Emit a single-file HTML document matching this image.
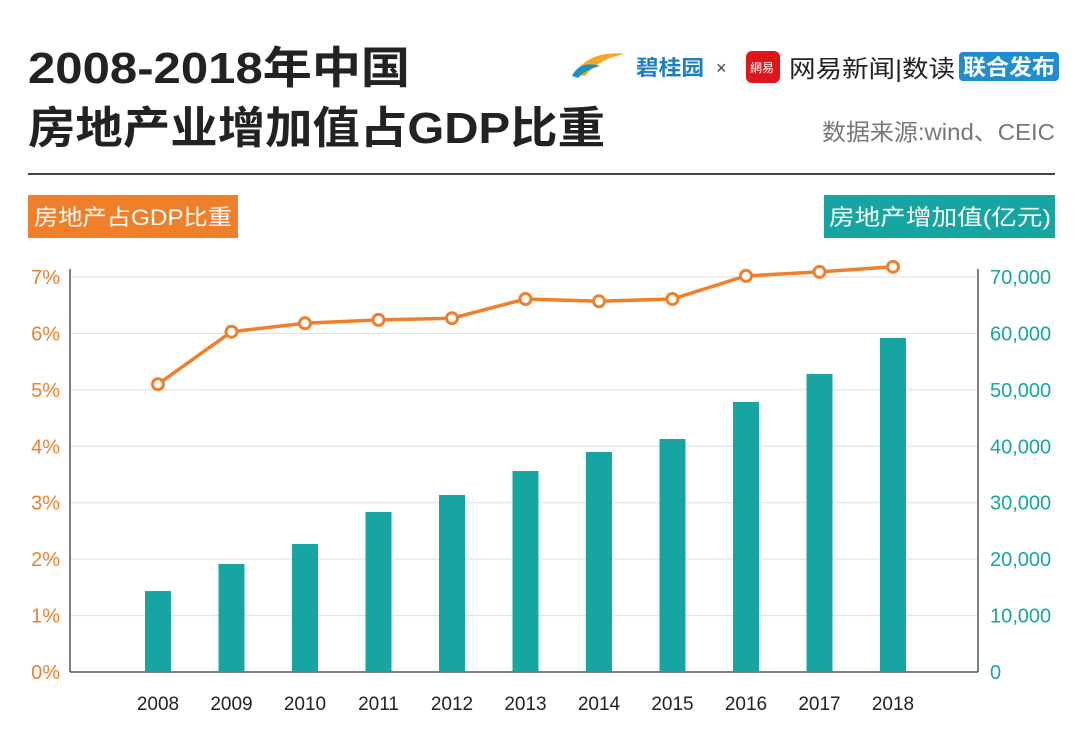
<!DOCTYPE html>
<html><head><meta charset="utf-8"><style>
body{margin:0;background:#fff;width:1080px;height:732px;overflow:hidden;font-family:"Liberation Sans","Noto Sans CJK SC",sans-serif}
</style></head><body>
<svg width="1080" height="732" font-family="Liberation Sans, Noto Sans CJK SC, sans-serif">
<text x="28" y="83" font-size="44" font-weight="bold" fill="#222" textLength="382" lengthAdjust="spacingAndGlyphs">2008-2018年中国</text>
<text x="28" y="143" font-size="44" font-weight="bold" fill="#222" textLength="577" lengthAdjust="spacingAndGlyphs">房地产业增加值占GDP比重</text>
<g>
<path d="M574 74 Q590 50 625 54 Q600 58 585 76 Z" fill="#f5a623"/>
<path d="M572 76 Q580 60 600 66 Q585 70 578 78 Z" fill="#1a8fc2"/>
<text x="636" y="75" font-size="21" font-weight="bold" fill="#1a7fc0" textLength="68" lengthAdjust="spacingAndGlyphs">碧桂园</text>
<text x="716" y="74" font-size="18" fill="#444">×</text>
<rect x="746" y="51" width="34" height="32" rx="6" fill="#e0141b"/>
<text x="750" y="72" font-size="12" fill="#fff">網易</text>
<text x="789" y="77" font-size="24" fill="#222" textLength="166" lengthAdjust="spacingAndGlyphs">网易新闻|数读</text>
<rect x="959" y="52" width="100" height="29" rx="4" fill="#1e8ed0"/>
<text x="963" y="75" font-size="22" font-weight="bold" fill="#fff" textLength="92" lengthAdjust="spacingAndGlyphs">联合发布</text>
</g>
<text x="1055" y="140" font-size="23" fill="#777" text-anchor="end" textLength="233" lengthAdjust="spacingAndGlyphs">数据来源:wind、CEIC</text>
<line x1="28" y1="174" x2="1055" y2="174" stroke="#444" stroke-width="2"/>
<rect x="28" y="195" width="210" height="43" fill="#f07f2a"/>
<text x="34" y="225" font-size="22" fill="#fff" textLength="198" lengthAdjust="spacingAndGlyphs">房地产占GDP比重</text>
<rect x="824" y="195" width="231" height="43" fill="#16a5a0"/>
<text x="829" y="225" font-size="22" fill="#fff" textLength="222" lengthAdjust="spacingAndGlyphs">房地产增加值(亿元)</text>
<g id="plot"></g>
</svg>
<script>
const years=["2008","2009","2010","2011","2012","2013","2014","2015","2016","2017","2018"];
const valueAdded=[14350,19140,22680,28350,31370,35620,38990,41290,47850,52810,59190];
const gdpShare=[5.10,6.03,6.18,6.24,6.27,6.61,6.57,6.61,7.02,7.09,7.18];
const leftTicks=[0,1,2,3,4,5,6,7];
const rightTicks=[0,10000,20000,30000,40000,50000,60000,70000];
const NS="http://www.w3.org/2000/svg";
const g=document.getElementById('plot');
const x0=70,x1=978,yB=672,yT=277;
const yL=v=>yB-(v/7)*(yB-yT);
const yR=v=>yB-(v/70000)*(yB-yT);
const xC=i=>158+i*73.5;
function mk(t,a){const e=document.createElementNS(NS,t);for(const k in a)e.setAttribute(k,a[k]);g.appendChild(e);return e;}
leftTicks.forEach((t,i)=>{
 const y=yL(t);
 const l=mk('line',{x1:x0,y1:y,x2:x1,y2:y,stroke:i==0?'#555':'#ddd','stroke-width':i==0?1.5:1});
 
 
 const tx=mk('text',{x:60,y:y+7,'font-size':20,fill:'#f07f2a','text-anchor':'end'});tx.textContent=t+'%';
 
 
});
rightTicks.forEach(t=>{
 const tx=mk('text',{x:990,y:yR(t)+7,'font-size':20,fill:'#16a5a0'});tx.textContent=t.toLocaleString('en-US');
 
 
});
let a1=mk('line',{x1:x0,y1:yT-8,x2:x0,y2:yB,stroke:'#555','stroke-width':1.5});


let a2=mk('line',{x1:x1,y1:yT-8,x2:x1,y2:yB,stroke:'#555','stroke-width':1.5});


years.forEach((y,i)=>{
 const b=mk('rect',{x:xC(i)-13,y:yR(valueAdded[i]),width:26,height:yB-yR(valueAdded[i]),fill:'#16a5a0'});
 
 
 const t=mk('text',{x:xC(i),y:710,'font-size':19,fill:'#222','text-anchor':'middle'});t.textContent=y;
 
 
});
const pl=mk('polyline',{points:gdpShare.map((v,i)=>xC(i)+','+yL(v)).join(' '),fill:'none',stroke:'#f07f2a','stroke-width':3.5});


gdpShare.forEach((v,i)=>{
 const c=mk('circle',{cx:xC(i),cy:yL(v),r:5.5,fill:'#fff',stroke:'#f07f2a','stroke-width':3});
 
 
});
</script>
</body></html>
